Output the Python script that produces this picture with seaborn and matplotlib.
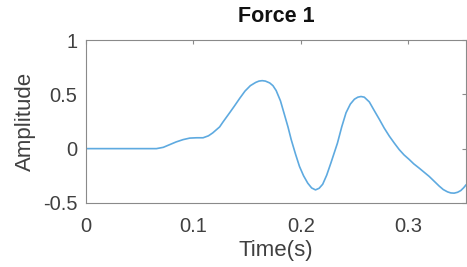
import numpy as np
import pandas as pd
import seaborn as sns
import matplotlib
matplotlib.use("Agg")
import matplotlib.pyplot as plt

# values
time_s = [0.0, 0.02, 0.04, 0.0656, 0.072, 0.078, 0.084, 0.0904, 0.0966, 0.103,
          0.109, 0.114, 0.118, 0.1244, 0.1275, 0.1337, 0.138, 0.143, 0.148, 0.153,
          0.158, 0.161, 0.164, 0.167, 0.171, 0.174, 0.177, 0.181, 0.1848, 0.188,
          0.191, 0.195, 0.1987, 0.2025, 0.2064, 0.21, 0.2136, 0.217, 0.2203, 0.224,
          0.228, 0.231, 0.234, 0.238, 0.242, 0.246, 0.2498, 0.253, 0.256, 0.259,
          0.2637, 0.268, 0.273, 0.2775, 0.2823, 0.287, 0.2915, 0.296, 0.3008, 0.305,
          0.310, 0.3194, 0.324, 0.3287, 0.3325, 0.3364, 0.3395, 0.3426, 0.3458,
          0.3488, 0.3515, 0.3537]
amplitude = [0.0, 0.0, 0.0, 0.0, 0.012, 0.037, 0.062, 0.083, 0.097, 0.1,
             0.1, 0.118, 0.145, 0.2, 0.245, 0.33, 0.39, 0.462, 0.53, 0.58,
             0.61, 0.622, 0.626, 0.622, 0.605, 0.58, 0.535, 0.44, 0.31, 0.2,
             0.083, -0.05, -0.164, -0.25, -0.318, -0.362, -0.38, -0.365, -0.328, -0.245,
             -0.13, -0.04, 0.05, 0.2, 0.33, 0.41, 0.455, 0.474, 0.48, 0.474,
             0.43, 0.355, 0.27, 0.19, 0.115, 0.05, -0.009, -0.058, -0.10, -0.14,
             -0.179, -0.256, -0.3, -0.345, -0.377, -0.398, -0.408, -0.41, -0.402,
             -0.386, -0.36, -0.333]

x_ticks = [0, 0.1, 0.2, 0.3]
x_tick_labels = ["0", "0.1", "0.2", "0.3"]
y_ticks = [-0.5, 0, 0.5, 1]
y_tick_labels = ["-0.5", "0", "0.5", "1"]

df = pd.DataFrame({"Time(s)": time_s, "Amplitude": amplitude})

sns.set_style("white")
plt.rcParams["font.family"] = ["Liberation Sans", "DejaVu Sans"]

fig = plt.figure(figsize=(4.67, 2.67), dpi=100)
ax = fig.add_axes([0.184, 0.24, 0.814, 0.61])

sns.lineplot(data=df, x="Time(s)", y="Amplitude", ax=ax, color="#5eaae0", linewidth=1.2)

ax.set_xlim(0, 0.3537)
ax.set_ylim(-0.5, 1)
ax.set_xticks(x_ticks)
ax.set_xticklabels(x_tick_labels)
ax.set_yticks(y_ticks)
ax.set_yticklabels(y_tick_labels)

for s in ax.spines.values():
    s.set_color("#8a8a8a")
    s.set_linewidth(0.8)
ax.tick_params(direction="in", length=3, width=0.8, color="#8a8a8a",
               top=True, right=True, labelsize=14.5, labelcolor="#404040")
ax.tick_params(axis="x", pad=10)
ax.tick_params(axis="y", pad=6)

ax.set_xlabel("Time(s)", fontsize=16, color="#404040", labelpad=3)
ax.set_ylabel("Amplitude", fontsize=16, color="#404040", labelpad=5)
ax.set_title("Force 1", fontsize=15.5, fontweight="bold", color="#111111", pad=13)

fig.savefig("out.png", dpi=100)
